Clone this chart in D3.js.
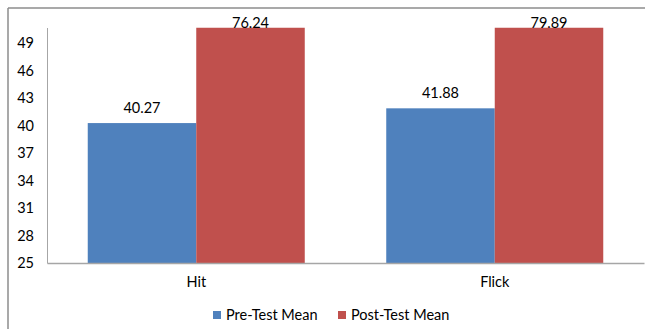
<!DOCTYPE html>
<html>
<head>
<meta charset="utf-8">
<script src="https://cdn.jsdelivr.net/npm/d3@7"></script>
<style>
  html, body { margin: 0; padding: 0; background: #fff; }
  svg { display: block; font-family: Lato, "Open Sans", sans-serif; }
</style>
</head>
<body>
<svg id="chart" width="645" height="329"></svg>
<script>
const categories = ["Hit", "Flick"];
const seriesNames = ["Pre-Test Mean", "Post-Test Mean"];
const preTest = [40.27, 41.88];
const postTest = [76.24, 79.89];
const tickValues = [25, 28, 31, 34, 37, 40, 43, 46, 49];
const colors = ["#4F81BD", "#C0504D"];

const svg = d3.select("#chart");
const W = 645, H = 329;
const plot = { left: 47, right: 644, top: 27.5, bottom: 263 };

// outer frame (cropped at right/bottom)
svg.append("line").attr("x1", 8).attr("x2", W).attr("y1", 8).attr("y2", 8)
  .attr("stroke", "#8c8c8c").attr("stroke-width", 1.5);
svg.append("line").attr("x1", 8).attr("x2", 8).attr("y1", 8).attr("y2", H)
  .attr("stroke", "#8c8c8c").attr("stroke-width", 1.5);

const x0 = d3.scaleBand().domain(categories).range([plot.left, plot.right])
  .paddingInner(0.273).paddingOuter(0.1365);
const x1 = d3.scaleBand().domain(seriesNames).range([0, x0.bandwidth()]).padding(0);
const y = d3.scaleLinear().domain([25, 50.7]).range([plot.bottom, plot.top]);

svg.append("clipPath").attr("id", "clip").append("rect")
  .attr("x", plot.left).attr("y", plot.top)
  .attr("width", plot.right - plot.left).attr("height", plot.bottom - plot.top);

const data = categories.map((c, i) => ({ cat: c, vals: [preTest[i], postTest[i]] }));

const groups = svg.append("g").attr("clip-path", "url(#clip)")
  .selectAll("g").data(data).join("g")
  .attr("transform", d => `translate(${x0(d.cat)},0)`);

groups.selectAll("rect").data(d => d.vals.map((v, j) => ({ v, s: seriesNames[j], j })))
  .join("rect")
  .attr("x", d => x1(d.s))
  .attr("width", x1.bandwidth())
  .attr("y", d => y(Math.min(d.v, y.domain()[1])))
  .attr("height", d => plot.bottom - y(Math.min(d.v, y.domain()[1])))
  .attr("fill", d => colors[d.j]);

// value labels
const labG = svg.append("g");
data.forEach(d => {
  d.vals.forEach((v, j) => {
    const cx = x0(d.cat) + x1(seriesNames[j]) + x1.bandwidth() / 2;
    const by = Math.max(y(Math.min(v, y.domain()[1])) - 10, 28);
    labG.append("text").attr("x", cx).attr("y", by)
      .attr("text-anchor", "middle").attr("font-size", 14.5).attr("fill", "#000")
      .text(v.toFixed(2));
  });
});

// y axis
const yAxis = d3.axisLeft(y).tickValues(tickValues).tickSize(0).tickPadding(13);
const gy = svg.append("g").attr("transform", `translate(${plot.left},0)`).call(yAxis);
gy.select(".domain").attr("stroke", "#a6a6a6").attr("stroke-width", 1);
gy.selectAll("text").attr("font-size", 14.5).attr("fill", "#000")
  .attr("font-family", "Lato, 'Open Sans', sans-serif");

// x axis
const xAxis = d3.axisBottom(x0).tickSize(0).tickPadding(14);
const gx = svg.append("g").attr("transform", `translate(0,${plot.bottom})`).call(xAxis);
gx.select(".domain").attr("stroke", "#a6a6a6").attr("stroke-width", 1.5);
gx.selectAll("text").attr("font-size", 14.5).attr("fill", "#000")
  .attr("font-family", "Lato, 'Open Sans', sans-serif");

// legend
const legendX = [213, 338];
const leg = svg.append("g");
seriesNames.forEach((s, j) => {
  leg.append("rect").attr("x", legendX[j]).attr("y", 311).attr("width", 8).attr("height", 8)
    .attr("fill", colors[j]);
  leg.append("text").attr("x", legendX[j] + 13).attr("y", 320)
    .attr("font-size", 14.5).attr("fill", "#000").text(s);
});
</script>
</body>
</html>
